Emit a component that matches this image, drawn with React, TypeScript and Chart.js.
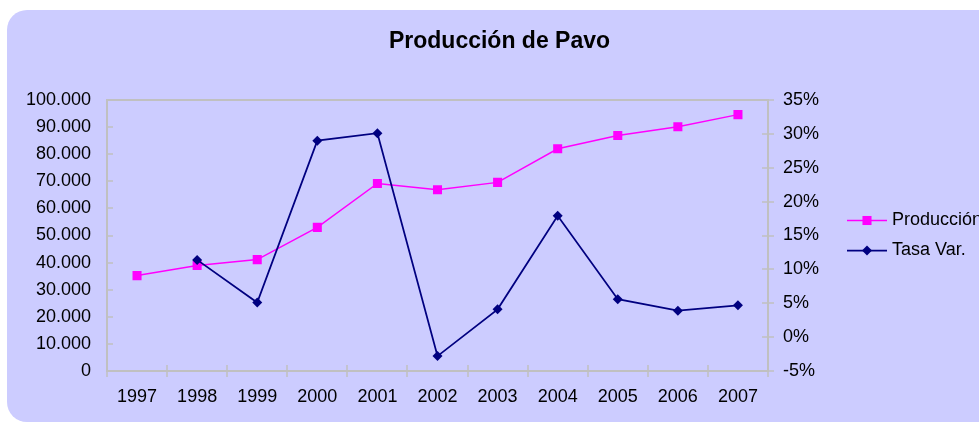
import React, { useEffect, useRef } from "react";
import { Chart, registerables } from "chart.js";

Chart.register(...registerables);

const years = ["1997", "1998", "1999", "2000", "2001", "2002", "2003", "2004", "2005", "2006", "2007"];
const produccion = [35200, 38900, 41100, 53000, 69200, 66900, 69600, 82000, 86900, 90100, 94600];
const tasaVar = [null, 11.4, 5.1, 29.0, 30.1, -2.8, 4.1, 17.9, 5.6, 3.9, 4.7];
const titleText = "Producción de Pavo";

const FONT = "'Liberation Sans', Arial, Helvetica, sans-serif";
const AXIS_GRAY = "#C0C0C0";

const fmtThousands = (v: number) => String(v).replace(/\B(?=(\d{3})+(?!\d))/g, ".");

const backgroundPlugin = {
  id: "bgPanel",
  beforeDraw(chart: any) {
    const ctx = chart.ctx;
    ctx.save();
    ctx.fillStyle = "#CCCCFF";
    ctx.beginPath();
    (ctx as any).roundRect(7, 10, 1010, 412, 20);
    ctx.fill();
    ctx.restore();
  },
};

const framePlugin = {
  id: "frame",
  beforeDatasetsDraw(chart: any) {
    const { ctx, chartArea, scales } = chart;
    const { left, right, top, bottom } = chartArea;
    ctx.save();
    ctx.strokeStyle = AXIS_GRAY;
    ctx.lineWidth = 2;
    ctx.strokeRect(left, top, right - left, bottom - top);
    ctx.lineWidth = 1.5;
    ctx.beginPath();
    scales.y.ticks.forEach((t: any) => {
      const p = Math.round(scales.y.getPixelForValue(t.value));
      ctx.moveTo(left, p);
      ctx.lineTo(left + 6, p);
    });
    scales.y1.ticks.forEach((t: any) => {
      const p = Math.round(scales.y1.getPixelForValue(t.value));
      ctx.moveTo(right - 6, p);
      ctx.lineTo(right + 6, p);
    });
    for (let k = 0; k <= years.length; k++) {
      const p = Math.round(scales.x.getPixelForValue(k - 0.5));
      ctx.moveTo(p, bottom - 6);
      ctx.lineTo(p, bottom + 6);
    }
    ctx.stroke();
    ctx.restore();
  },
};

const legendPlugin = {
  id: "sideLegend",
  afterDraw(chart: any) {
    const { ctx, chartArea } = chart;
    const x0 = chartArea.right + 79;
    const cy = (chartArea.top + chartArea.bottom) / 2;
    const rows = chart.data.datasets.length;
    ctx.save();
    chart.data.datasets.forEach((ds: any, i: number) => {
      const y = cy + (i - (rows - 1) / 2) * 30;
      ctx.strokeStyle = ds.borderColor;
      ctx.lineWidth = ds.borderWidth;
      ctx.beginPath();
      ctx.moveTo(x0, y);
      ctx.lineTo(x0 + 40, y);
      ctx.stroke();
      ctx.fillStyle = ds.pointBackgroundColor;
      const mx = x0 + 20;
      if (ds.pointStyle === "rect") {
        const s = ds.pointRadius * Math.SQRT1_2;
        ctx.fillRect(mx - s, y - s, 2 * s, 2 * s);
      } else {
        const r = ds.pointRadius;
        ctx.beginPath();
        ctx.moveTo(mx, y - r);
        ctx.lineTo(mx + r, y);
        ctx.lineTo(mx, y + r);
        ctx.lineTo(mx - r, y);
        ctx.closePath();
        ctx.fill();
      }
      ctx.fillStyle = "#000";
      ctx.font = `18px ${FONT}`;
      ctx.textAlign = "left";
      ctx.textBaseline = "middle";
      ctx.fillText(ds.label, x0 + 45, y);
    });
    ctx.restore();
  },
};

export default function App() {
  const ref = useRef<HTMLCanvasElement | null>(null);

  useEffect(() => {
    const canvas = ref.current;
    if (!canvas) return;
    const tickFont = { family: FONT, size: 18 };
    const noGrid = { display: false, drawTicks: false, tickLength: 0 };
    const chart = new Chart(canvas, {
      type: "line",
      data: {
        labels: years,
        datasets: [
          {
            label: "Producción",
            data: produccion,
            yAxisID: "y",
            borderColor: "#FF00FF",
            backgroundColor: "#FF00FF",
            pointBackgroundColor: "#FF00FF",
            pointBorderColor: "#FF00FF",
            pointBorderWidth: 0,
            pointStyle: "rect",
            pointRadius: 6.4,
            borderWidth: 1.5,
            tension: 0,
            order: 2,
          } as any,
          {
            label: "Tasa Var.",
            data: tasaVar,
            yAxisID: "y1",
            borderColor: "#000080",
            backgroundColor: "#000080",
            pointBackgroundColor: "#000080",
            pointBorderColor: "#000080",
            pointBorderWidth: 0,
            pointStyle: "rectRot",
            pointRadius: 5,
            borderWidth: 1.75,
            tension: 0,
            spanGaps: false,
            order: 1,
          } as any,
        ],
      },
      options: {
        animation: false,
        responsive: false,
        devicePixelRatio: 1,
        events: [],
        layout: { padding: { left: 20, right: 0, top: 0, bottom: 0 } },
        plugins: {
          legend: { display: false },
          tooltip: { enabled: false },
          title: {
            display: true,
            text: titleText,
            color: "#000",
            font: { family: FONT, size: 23, weight: "bold" },
            padding: { top: 27.5, bottom: 44.9 },
          },
        },
        scales: {
          x: {
            type: "category",
            offset: true,
            grid: noGrid,
            border: { display: false },
            ticks: { color: "#000", font: tickFont, padding: 15.5, maxRotation: 0, autoSkip: false },
            afterFit: (s: any) => {
              s.height = 52;
            },
          },
          y: {
            type: "linear",
            position: "left",
            min: 0,
            max: 100000,
            grid: noGrid,
            border: { display: false },
            ticks: {
              stepSize: 10000,
              color: "#000",
              font: tickFont,
              padding: 16,
              callback: (v: any) => fmtThousands(Number(v)),
            },
            afterFit: (s: any) => {
              s.width = 87;
            },
          },
          y1: {
            type: "linear",
            position: "right",
            min: -5,
            max: 35,
            grid: noGrid,
            border: { display: false },
            ticks: {
              stepSize: 5,
              color: "#000",
              font: tickFont,
              padding: 15,
              callback: (v: any) => `${v}%`,
            },
            afterFit: (s: any) => {
              s.width = 211;
            },
          },
        },
      } as any,
      plugins: [backgroundPlugin, framePlugin, legendPlugin],
    });
    return () => chart.destroy();
  }, []);

  return (
    <canvas
      ref={ref}
      width={979}
      height={423}
      style={{ position: "fixed", left: 0, top: 0, display: "block", width: 979, height: 423 }}
    />
  );
}
